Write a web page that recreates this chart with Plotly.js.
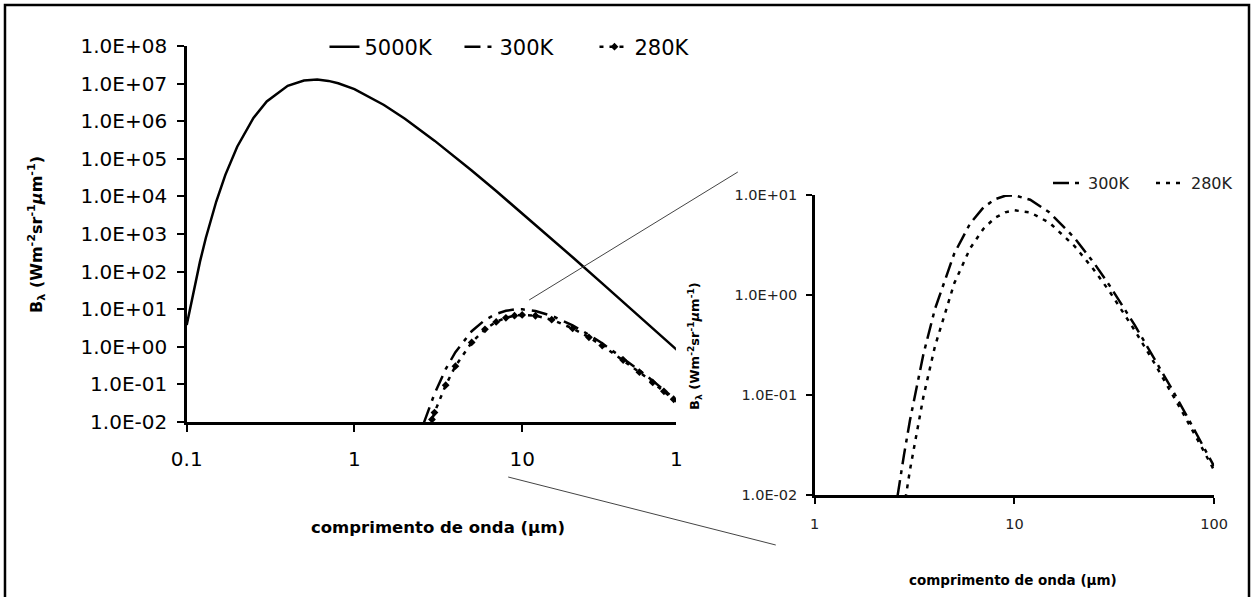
<!DOCTYPE html>
<html>
<head>
<meta charset="utf-8">
<script src="https://cdn.plot.ly/plotly-3.0.1.min.js"></script>
<style>html,body{margin:0;padding:0;background:#fff;}#chart{width:1254px;height:597px;}</style>
</head>
<body>
<div id="chart"></div>
<script>
// ---- data ----
const lam5000 = [0.1,0.11,0.12,0.13,0.15,0.17,0.2,0.25,0.3,0.4,0.5,0.6,0.7,0.8,1,1.5,2,3,4,5,7,10,15,20,30,40,50,70,100];
const b5000   = [3.79,32.2,184,782,7310,37350,2.10e5,1.22e6,3.35e6,8.74e6,1.21e7,1.28e7,1.18e7,1.02e7,7.10e6,2.70e6,1.16e6,3.04e5,1.11e5,4.90e4,1.39e4,3572,742,241,48.7,15.6,6.43,1.69,0.408];

const lam300 = [2.6,2.7,2.8,3,3.5,4,5,6,7,8,9,10,12,15,20,25,30,40,50,60,70,80,90,100];
const b300   = [0.0098,0.0160,0.0252,0.0559,0.254,0.722,2.60,5.18,7.51,9.08,9.83,9.93,8.96,6.69,3.72,2.10,1.24,0.502,0.237,0.125,0.0720,0.0443,0.0287,0.0194];

const lam280 = [2.8,2.9,3,3.5,4,5,6,7,8,9,10,12,15,20,25,30,40,50,60,70,80,90,100];
const b280   = [0.0074,0.0117,0.0178,0.0953,0.306,1.31,2.92,4.60,5.91,6.71,7.03,6.70,5.27,3.09,1.79,1.08,0.445,0.212,0.113,0.0654,0.0403,0.0262,0.0177];

const seriesNames = ['5000K','300K','280K'];

const mainYTickVals = [1e-2,1e-1,1e0,1e1,1e2,1e3,1e4,1e5,1e6,1e7,1e8];
const mainYTickText = ['1.0E-02','1.0E-01','1.0E+00','1.0E+01','1.0E+02','1.0E+03','1.0E+04','1.0E+05','1.0E+06','1.0E+07','1.0E+08'];
const mainXTickVals = [0.1,1,10];
const mainXTickText = ['0.1','1','10'];

const insetYTickVals = [1e-2,1e-1,1e0,1e1];
const insetYTickText = ['1.0E-02','1.0E-01','1.0E+00','1.0E+01'];
const insetXTickVals = [1,10,100];
const insetXTickText = ['1','10','100'];

const xTitle = 'comprimento de onda (μm)';
const yTitle = 'B<sub>λ</sub> (Wm<sup>-2</sup>sr<sup>-1</sup><i>μ</i>m<sup>-1</sup>)';

// ---- layout helpers (pixel -> paper) ----
const W = 1254, H = 597;
const px = x => x / W;
const py = y => 1 - y / H;
const FONT = 'DejaVu Sans, Liberation Sans, Arial, sans-serif';

const traces = [
  {x: lam5000, y: b5000, name: seriesNames[0], mode: 'lines', xaxis: 'x', yaxis: 'y', legend: 'legend',
   line: {color: '#000', width: 2.5}},
  {x: lam300, y: b300, name: seriesNames[1], mode: 'lines', xaxis: 'x', yaxis: 'y', legend: 'legend',
   line: {color: '#000', width: 2.5, dash: '16px,7px,4px,7px'}},
  {x: lam280, y: b280, name: seriesNames[2], mode: 'lines+markers', xaxis: 'x', yaxis: 'y', legend: 'legend',
   line: {color: '#000', width: 2.5, dash: '4px,6px'}, marker: {symbol: 'diamond', size: 6, color: '#000'}},
  {x: lam300, y: b300, name: seriesNames[1], mode: 'lines', xaxis: 'x2', yaxis: 'y2', legend: 'legend2',
   line: {color: '#000', width: 2.5, dash: '16px,6px,4px,6px'}},
  {x: lam280, y: b280, name: seriesNames[2], mode: 'lines', xaxis: 'x2', yaxis: 'y2', legend: 'legend2',
   line: {color: '#000', width: 2.5, dash: '4px,6px'}}
];

const axCommon = {showline: true, linecolor: '#000', linewidth: 2.5, ticks: 'outside', tickcolor: '#000',
  tickwidth: 2, showgrid: false, zeroline: false, type: 'log', tickmode: 'array', fixedrange: true};

const layout = {
  width: W, height: H,
  margin: {l: 0, r: 0, t: 0, b: 0},
  paper_bgcolor: '#fff', plot_bgcolor: 'rgba(0,0,0,0)',
  font: {family: FONT, color: '#000'},
  showlegend: true,
  xaxis: Object.assign({}, axCommon, {domain: [px(187), px(677)], range: [-1, 1.9167], anchor: 'y',
    tickvals: mainXTickVals, ticktext: mainXTickText, ticklen: 7, tickfont: {size: 20, family: FONT}, ticklabelstandoff: 10}),
  yaxis: Object.assign({}, axCommon, {domain: [py(422), py(46)], range: [-2, 8], anchor: 'x',
    tickvals: mainYTickVals, ticktext: mainYTickText, ticklen: 7, tickfont: {size: 20, family: FONT}, ticklabelstandoff: 6}),
  xaxis2: Object.assign({}, axCommon, {domain: [px(816), px(1216)], range: [0, 2], anchor: 'y2',
    tickvals: insetXTickVals, ticktext: insetXTickText, ticklen: 6, tickfont: {size: 14.5, family: FONT, color: '#222'}, ticklabelstandoff: 8}),
  yaxis2: Object.assign({}, axCommon, {domain: [py(495), py(195)], range: [-2, 1], anchor: 'x2',
    tickvals: insetYTickVals, ticktext: insetYTickText, ticklen: 6, tickfont: {size: 14.5, family: FONT, color: '#222'}, ticklabelstandoff: 6}),
  legend: {orientation: 'h', x: px(325), xanchor: 'left', y: py(47), yanchor: 'middle',
    font: {size: 21, family: FONT}, bgcolor: 'rgba(0,0,0,0)', itemwidth: 30,
    entrywidth: 90, entrywidthmode: 'pixels'},
  legend2: {orientation: 'h', x: px(1050), xanchor: 'left', y: py(183), yanchor: 'middle',
    font: {size: 16, family: FONT, color: '#222'}, bgcolor: 'rgba(0,0,0,0)', itemwidth: 30,
    entrywidth: 58, entrywidthmode: 'pixels'},
  annotations: [
    {xref: 'paper', yref: 'paper', x: px(678), y: py(459), text: '1', showarrow: false,
     font: {size: 20, family: FONT}, xanchor: 'center', yanchor: 'middle'},
    {xref: 'paper', yref: 'paper', x: px(439), y: py(527), text: '<b>' + xTitle + '</b>', showarrow: false,
     font: {size: 16.5, family: FONT}, xanchor: 'center', yanchor: 'middle'},
    {xref: 'paper', yref: 'paper', x: px(37), y: py(234), text: '<b>' + yTitle + '</b>', showarrow: false, textangle: -90,
     font: {size: 16, family: FONT}, xanchor: 'center', yanchor: 'middle'},
    {xref: 'paper', yref: 'paper', x: px(1015), y: py(580), text: '<b>' + xTitle + '</b>', showarrow: false,
     font: {size: 13.5, family: FONT}, xanchor: 'center', yanchor: 'middle'},
    {xref: 'paper', yref: 'paper', x: px(696), y: py(346), text: '<b>' + yTitle + '</b>', showarrow: false, textangle: -90,
     font: {size: 13, family: FONT}, xanchor: 'center', yanchor: 'middle'}
  ],
  shapes: [
    {type: 'rect', xref: 'paper', yref: 'paper', x0: px(5), x1: px(1251), y0: py(600), y1: py(5),
     line: {color: '#000', width: 2.5}, fillcolor: 'rgba(0,0,0,0)'},
    {type: 'line', xref: 'paper', yref: 'paper', x0: px(530), y0: py(300), x1: px(739), y1: py(172),
     line: {color: '#444', width: 1}},
    {type: 'line', xref: 'paper', yref: 'paper', x0: px(509), y0: py(477), x1: px(777), y1: py(545),
     line: {color: '#444', width: 1}}
  ]
};

Plotly.newPlot('chart', traces, layout, {staticPlot: true, displayModeBar: false});
</script>
</body>
</html>
